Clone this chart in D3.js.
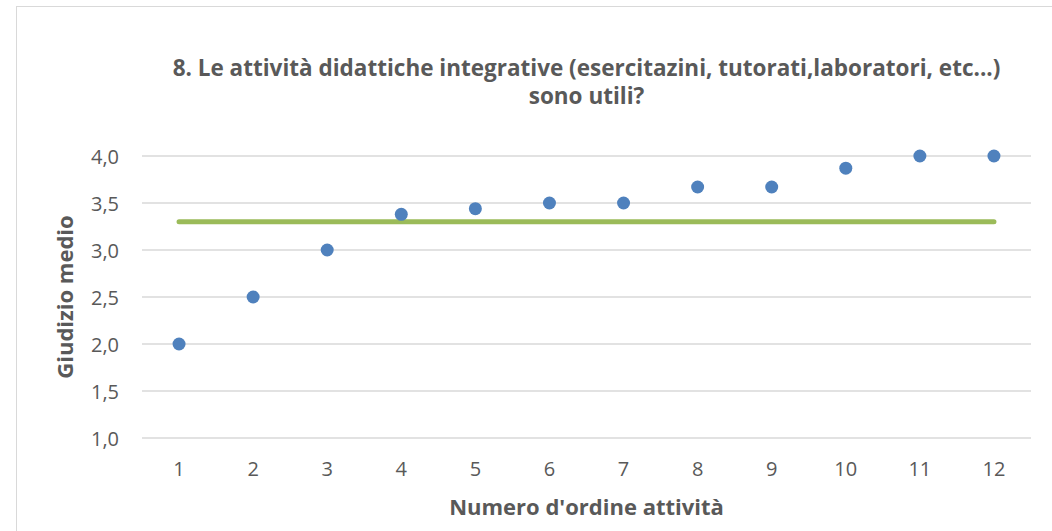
<!DOCTYPE html>
<html>
<head>
<meta charset="utf-8">
<script src="https://cdn.jsdelivr.net/npm/d3@7"></script>
<style>
  body { margin: 0; background: #fff; }
  svg { display: block; font-family: "Open Sans", sans-serif; }
</style>
</head>
<body>
<div id="chart"></div>
<script>
const width = 1052, height = 531;

// data
const categories = [1, 2, 3, 4, 5, 6, 7, 8, 9, 10, 11, 12];
const giudizio = [2.0, 2.5, 3.0, 3.38, 3.44, 3.5, 3.5, 3.67, 3.67, 3.87, 4.0, 4.0];
const media = 3.3;
const yTicks = [1.0, 1.5, 2.0, 2.5, 3.0, 3.5, 4.0];
const titleLines = ["8. Le attività didattiche integrative (esercitazini, tutorati,laboratori, etc...)", "sono utili?"];

const margin = {left: 142, right: 21, top: 156, bottom: 93};

const svg = d3.select("#chart")
    .append("svg")
    .attr("width", width)
    .attr("height", height);

// outer frame
svg.append("rect")
    .attr("x", 16.5).attr("y", 6.5)
    .attr("width", width + 10).attr("height", height + 10)
    .attr("fill", "#fff")
    .attr("stroke", "#d9d9d9");

const x = d3.scaleBand()
    .domain(categories)
    .range([margin.left, width - margin.right]);

const y = d3.scaleLinear()
    .domain([1, 4])
    .range([height - margin.bottom, margin.top]);

const fmt = d => d3.format(".1f")(d).replace(".", ",");

// gridlines
svg.append("g")
    .selectAll("line")
    .data(yTicks)
    .join("line")
    .attr("x1", margin.left).attr("x2", width - margin.right)
    .attr("y1", d => y(d)).attr("y2", d => y(d))
    .attr("stroke", "#d9d9d9")
    .attr("stroke-width", 1.3);

// y axis
const yAxis = svg.append("g")
    .attr("transform", `translate(${margin.left - 23},0)`)
    .call(d3.axisLeft(y).tickValues(yTicks).tickFormat(fmt).tickSize(0).tickPadding(0))
    .attr("font-family", null)
    .attr("font-size", null);
yAxis.select(".domain").remove();
yAxis.selectAll("text")
    .attr("fill", "#595959")
    .style("font-size", "20px")
    .attr("dy", "0.35em");

// x axis
const xAxis = svg.append("g")
    .attr("transform", `translate(0,${y(1) + 24})`)
    .call(d3.axisBottom(x).tickSize(0).tickPadding(0))
    .attr("font-family", null)
    .attr("font-size", null);
xAxis.select(".domain").remove();
xAxis.selectAll("text")
    .attr("fill", "#595959")
    .style("font-size", "20px")
    .attr("dy", "0.71em");

// average line
const cx = d => x(d) + x.bandwidth() / 2;
svg.append("line")
    .attr("x1", cx(categories[0])).attr("x2", cx(categories[categories.length - 1]))
    .attr("y1", y(media)).attr("y2", y(media))
    .attr("stroke", "#9bbb59")
    .attr("stroke-width", 5)
    .attr("stroke-linecap", "round");

// points
svg.append("g")
    .selectAll("circle")
    .data(categories)
    .join("circle")
    .attr("cx", d => cx(d))
    .attr("cy", (d, i) => y(giudizio[i]))
    .attr("r", 6.5)
    .attr("fill", "#4f81bd");

// title
svg.append("text")
    .attr("x", (margin.left + width - margin.right) / 2)
    .attr("y", 76)
    .attr("text-anchor", "middle")
    .attr("fill", "#595959")
    .style("font-size", "22.5px")
    .style("font-weight", "bold")
    .selectAll("tspan")
    .data(titleLines)
    .join("tspan")
    .attr("x", (margin.left + width - margin.right) / 2)
    .attr("dy", (d, i) => i ? 28 : 0)
    .text(d => d);

// axis titles
svg.append("text")
    .attr("x", (margin.left + width - margin.right) / 2)
    .attr("y", 515)
    .attr("text-anchor", "middle")
    .attr("fill", "#595959")
    .style("font-size", "22px")
    .style("font-weight", "bold")
    .text("Numero d'ordine attività");

svg.append("text")
    .attr("transform", `translate(73,${(y(1) + y(4)) / 2}) rotate(-90)`)
    .attr("text-anchor", "middle")
    .attr("fill", "#595959")
    .style("font-size", "22px")
    .style("font-weight", "bold")
    .text("Giudizio medio");
</script>
</body>
</html>
